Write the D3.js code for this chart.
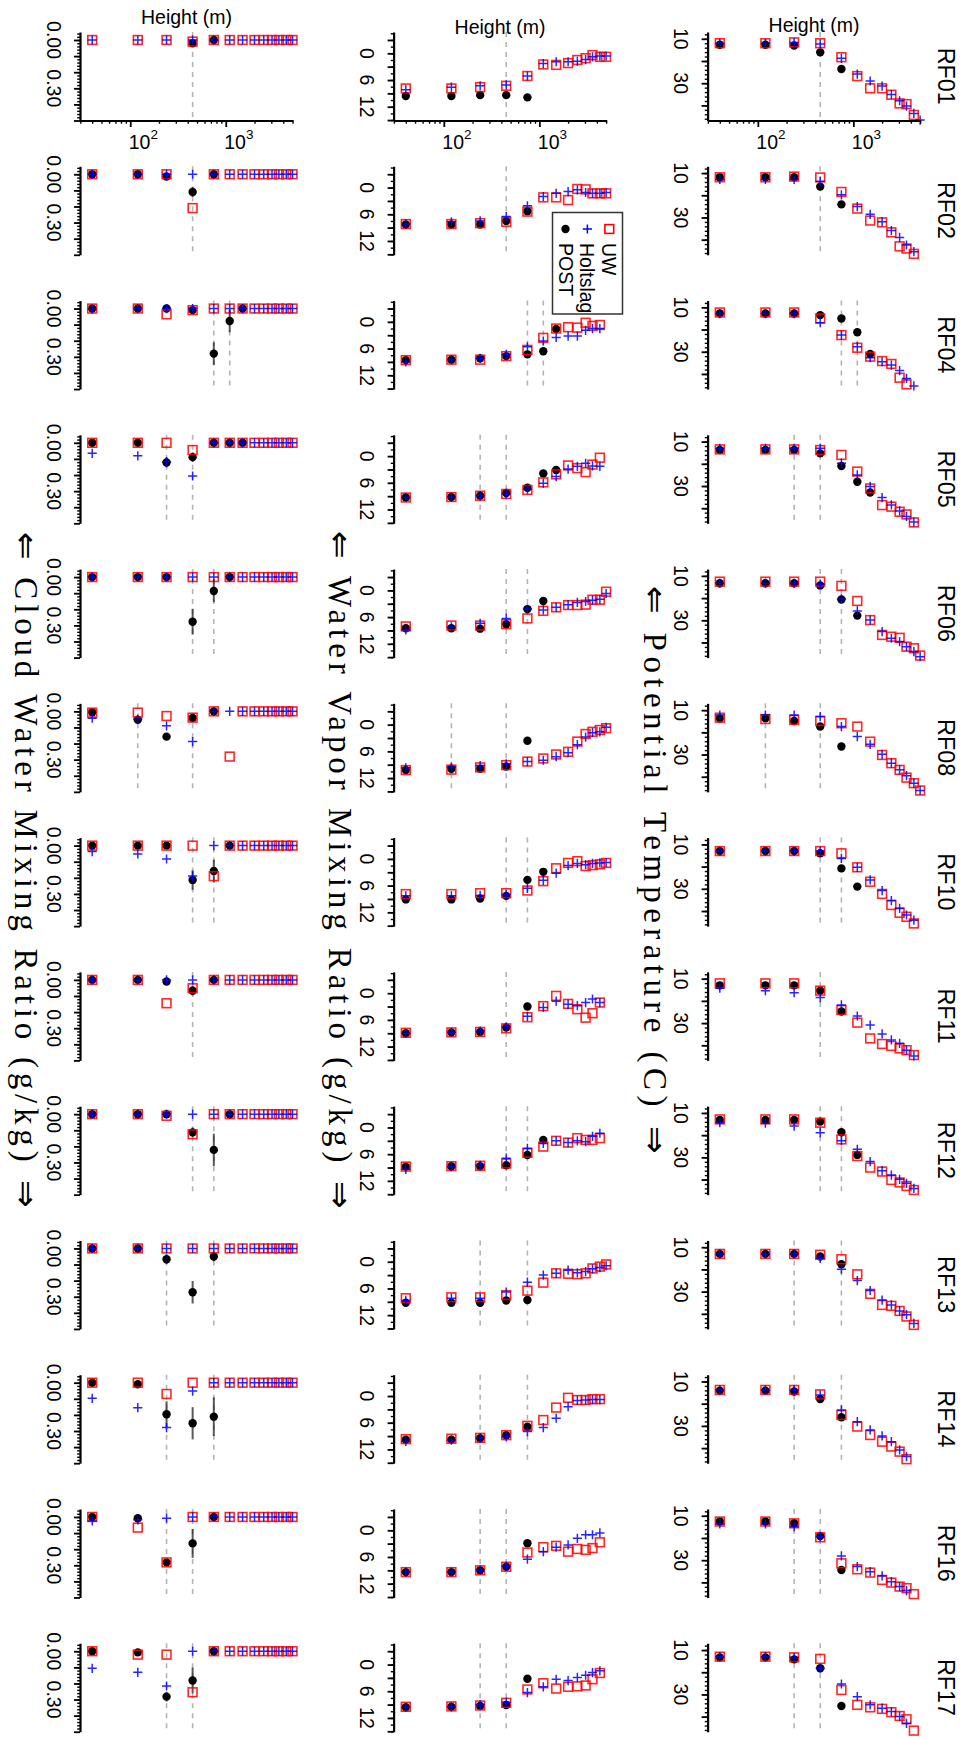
<!DOCTYPE html>
<html>
<head>
<meta charset="utf-8">
<script src="https://cdn.jsdelivr.net/npm/d3@7/dist/d3.min.js"></script>
<style>
  body { margin: 0; background: #fff; }
</style>
</head>
<body>
<div id="chart"></div>
<script>
const flights = ['RF01', 'RF02', 'RF04', 'RF05', 'RF06', 'RF08', 'RF10', 'RF11', 'RF12', 'RF13', 'RF14', 'RF16', 'RF17'];
const heights = [40, 120, 240, 450, 750, 1100, 1500, 2000, 2500, 3050, 3600, 4300, 5000];
const seriesNames = ['UW', 'Holtslag', 'POST'];
// levels (1-based) marked with grey dashed lines
const markedLevels = [[4], [4], [5, 6], [3, 4], [4, 5], [2, 4], [4, 5], [4], [4, 5], [3, 5], [3, 5], [3, 4], [3, 4]];

// potential temperature (C)
const thetaUW = [
  [12.0, 12.0, 11.6, 12.0, 18.3, 26.8, 32.3, 32.3, 35.2, 39.1, 39.4, 44.3],
  [11.9, 11.9, 11.6, 12.0, 18.5, 26.0, 31.4, 32.2, 36.7, 43.0, 44.0, 46.4],
  [12.3, 12.3, 12.3, 15.0, 22.5, 28.2, 32.2, 34.2, 35.5, 41.7, 44.7],
  [13.5, 13.5, 13.5, 13.8, 16.0, 23.5, 31.1, 38.6, 39.3, 41.6, 42.8, 46.4],
  [12.6, 12.6, 12.6, 12.6, 14.5, 21.3, 29.9, 36.6, 37.4, 37.9, 41.9, 42.6, 45.9],
  [13.4, 14.0, 14.4, 14.9, 15.9, 17.4, 24.2, 30.2, 33.9, 36.9, 40.4, 42.9, 46.2],
  [13.0, 13.0, 13.0, 13.0, 14.0, 20.3, 26.8, 32.3, 37.3, 40.8, 42.6, 45.6],
  [12.1, 12.1, 12.1, 15.4, 24.1, 29.8, 36.9, 39.4, 40.3, 41.4, 42.2, 44.4],
  [12.9, 12.9, 12.9, 14.4, 21.9, 29.4, 34.6, 36.4, 40.2, 41.3, 42.9, 44.7],
  [13.0, 13.0, 13.0, 13.4, 15.4, 22.2, 31.0, 36.0, 36.4, 38.7, 41.2, 45.0],
  [13.8, 13.8, 13.8, 15.8, 25.1, 30.3, 34.1, 37.1, 39.3, 41.6, 45.0],
  [12.6, 12.6, 13.4, 19.7, 31.4, 34.1, 35.6, 38.9, 40.1, 41.9, 42.6, 45.3],
  [13.0, 13.0, 13.3, 14.0, 28.0, 34.7, 35.8, 36.5, 38.0, 39.7, 41.2, 46.3]
];
const thetaHoltslag = [
  [12.0, 12.0, 11.7, 12.3, 18.8, 25.9, 29.0, 31.3, 35.1, 37.9, 40.3, 43.6, 46.6],
  [12.9, 12.9, 12.9, 13.7, 19.8, 25.1, 28.6, 31.9, 35.9, 39.0, 42.4, 45.4],
  [12.8, 12.8, 12.8, 16.9, 22.5, 27.7, 32.7, 34.5, 36.0, 38.5, 42.0, 45.4],
  [13.0, 13.0, 13.0, 13.0, 19.7, 25.0, 30.2, 35.2, 38.5, 41.2, 43.7, 46.2],
  [13.3, 13.3, 13.3, 13.8, 20.4, 25.8, 29.9, 35.1, 38.1, 39.6, 41.9, 44.1, 46.4],
  [12.2, 12.2, 12.2, 12.9, 17.4, 21.9, 25.4, 29.9, 33.9, 36.9, 39.5, 42.9, 46.2],
  [13.0, 13.0, 13.0, 13.0, 16.3, 20.3, 26.0, 30.8, 35.3, 38.8, 41.8, 44.1],
  [14.3, 15.4, 16.3, 18.5, 21.8, 26.8, 30.9, 34.9, 37.6, 39.1, 42.2, 44.8],
  [14.4, 14.6, 15.9, 18.9, 22.5, 26.4, 31.9, 36.0, 38.0, 39.9, 41.7, 44.0],
  [13.0, 13.0, 13.0, 15.0, 19.9, 25.0, 29.5, 33.8, 36.0, 38.7, 40.4, 44.3],
  [13.8, 13.8, 13.8, 16.1, 22.8, 28.1, 31.8, 34.5, 37.1, 40.8, 43.8],
  [13.7, 13.7, 14.9, 19.4, 28.1, 32.9, 35.2, 37.1, 39.7, 41.9, 43.7],
  [13.0, 13.0, 13.3, 18.2, 25.3, 31.0, 34.7, 36.2, 37.7, 39.9, 43.0]
];
const thetaPOST = [
  [12.7, 12.7, 13.0, 16.1, 23.6],
  [11.9, 11.9, 11.9, 16.1, 24.1],
  [12.8, 12.8, 12.8, 13.5, 15.0, 21.2, 31.0],
  [13.8, 13.8, 13.8, 15.3, 21.0, 28.1, 32.9],
  [13.3, 13.3, 13.3, 14.3, 20.6, 27.9],
  [13.7, 13.7, 14.9, 17.4, 26.4],
  [13.0, 13.0, 13.0, 14.0, 20.8, 29.0],
  [13.0, 13.0, 13.0, 15.4, 24.8],
  [13.2, 13.2, 13.2, 13.9, 18.7, 28.9],
  [13.0, 13.0, 13.0, 14.2, 17.7],
  [14.1, 14.1, 14.5, 17.9, 26.1],
  [12.6, 12.6, 13.4, 19.1, 34.4],
  [13.3, 13.3, 14.2, 18.2, 35.2]
];

// water vapor mixing ratio (g/kg)
const qvUW = [
  [7.9, 7.9, 7.6, 7.3, 5.1, 2.5, 2.6, 2.2, 1.5, 1.1, 0.4, 0.8, 0.8],
  [8.2, 8.2, 8.0, 7.7, 5.4, 2.2, 2.2, 2.8, 0.3, 0.4, 1.3, 1.3, 1.3],
  [8.6, 8.5, 8.5, 7.7, 6.3, 3.6, 1.5, 1.2, 1.3, 0.2, 0.9, 0.7],
  [9.3, 9.2, 8.9, 8.5, 7.6, 5.9, 4.1, 2.1, 2.7, 3.6, 1.9, 0.35],
  [8.1, 7.9, 7.9, 7.6, 6.3, 4.6, 3.8, 3.3, 3.3, 3.2, 2.1, 2.1, 0.3],
  [10.2, 10.1, 9.6, 9.1, 8.3, 7.6, 6.7, 6.1, 3.8, 2.1, 1.6, 1.2, 0.8],
  [7.9, 7.9, 7.7, 7.7, 7.1, 5.0, 2.1, 0.9, 0.5, 1.6, 1.4, 1.2, 0.9],
  [8.9, 8.8, 8.7, 7.9, 5.4, 2.9, 0.6, 2.4, 3.6, 5.5, 4.5, 2.1],
  [8.8, 8.7, 8.6, 8.1, 5.7, 4.3, 3.0, 3.4, 2.4, 2.8, 2.8, 2.4],
  [8.2, 8.0, 8.0, 7.5, 6.5, 4.7, 2.6, 2.7, 2.8, 2.6, 1.5, 1.1, 0.6],
  [9.7, 9.6, 9.4, 8.8, 6.7, 5.4, 2.6, 0.4, 0.9, 0.9, 0.7, 0.7],
  [9.4, 9.4, 9.0, 8.2, 5.0, 3.8, 3.5, 4.8, 4.2, 4.4, 4.0, 2.7],
  [9.5, 9.4, 9.2, 8.6, 5.6, 4.2, 5.4, 5.0, 4.9, 4.7, 3.3, 1.9]
];
const qvHoltslag = [
  [8.2, 7.6, 7.3, 7.1, 5.1, 2.3, 1.9, 1.9, 1.8, 1.4, 0.8, 0.6, 0.6],
  [8.2, 7.7, 7.5, 6.5, 4.1, 2.0, 1.3, 0.9, 0.5, 1.1, 1.3, 1.3, 1.1],
  [9.0, 8.5, 8.2, 7.3, 5.6, 4.3, 3.5, 3.2, 3.2, 1.9, 1.5, 1.5],
  [9.3, 9.2, 8.9, 8.5, 7.4, 6.1, 4.6, 2.9, 2.3, 1.6, 2.2, 2.3],
  [8.9, 8.2, 7.4, 6.3, 4.2, 4.4, 3.8, 3.2, 2.7, 2.5, 2.2, 2.0, 0.7],
  [9.7, 9.5, 9.2, 8.8, 8.3, 8.0, 7.2, 6.3, 4.5, 2.8, 1.8, 1.6, 0.6],
  [8.3, 8.3, 8.2, 8.0, 6.6, 4.8, 3.2, 1.5, 1.0, 1.3, 1.0, 0.9, 0.8],
  [9.0, 8.8, 8.5, 7.6, 5.2, 3.2, 1.8, 2.5, 2.8, 2.1, 1.3, 2.1],
  [9.4, 8.8, 8.5, 6.9, 4.7, 3.6, 3.0, 3.4, 3.0, 3.2, 2.0, 1.3],
  [8.7, 8.2, 8.2, 6.8, 4.6, 3.0, 2.6, 1.9, 2.5, 2.2, 1.6, 1.3, 0.9],
  [10.2, 9.9, 9.4, 9.2, 8.0, 7.1, 5.0, 2.4, 1.0, 0.9, 0.8, 0.8],
  [9.4, 9.4, 8.9, 8.1, 6.5, 4.8, 3.8, 3.3, 1.8, 1.0, 1.0, 0.6],
  [9.6, 9.5, 9.0, 8.5, 6.3, 5.0, 3.3, 3.6, 2.9, 2.4, 1.8, 1.4]
];
const qvPOST = [
  [9.6, 9.6, 9.4, 9.4, 9.9],
  [8.3, 8.3, 8.3, 7.5, 5.3],
  [8.6, 8.5, 8.2, 7.7, 7.3, 6.6, 1.6],
  [9.3, 9.2, 8.9, 8.3, 7.1, 3.9, 3.1],
  [8.5, 8.5, 8.6, 7.6, 4.2, 2.4],
  [10.2, 9.9, 9.9, 9.4, 3.6],
  [9.1, 9.1, 8.9, 8.3, 4.7, 2.9],
  [9.0, 8.8, 8.7, 7.7, 3.0],
  [8.8, 8.7, 8.7, 8.5, 6.2, 2.8],
  [9.2, 9.2, 9.2, 8.7, 8.6],
  [9.8, 9.8, 9.5, 8.8, 6.9],
  [9.4, 9.4, 9.0, 8.2, 2.9],
  [9.6, 9.5, 9.3, 9.1, 3.2]
];

// cloud water mixing ratio (g/kg)
const qcUW = [
  [0, 0, 0, 0.01, 0, 0, 0, 0, 0, 0, 0, 0, 0],
  [0, 0, 0, 0.21, 0, 0, 0, 0, 0, 0, 0, 0, 0],
  [0, 0, 0.036, 0.01, 0, 0, 0, 0, 0, 0, 0, 0, 0],
  [0, 0, 0, 0.045, 0, 0, 0, 0, 0, 0, 0, 0, 0],
  [0, 0, 0, 0, 0, 0, 0, 0, 0, 0, 0, 0, 0],
  [0.008, 0.008, 0.029, 0.039, 0, 0.281, 0, 0, 0, 0, 0, 0, 0],
  [0, 0, 0, 0, 0.19, 0, 0, 0, 0, 0, 0, 0, 0],
  [0, 0, 0.145, 0.052, 0, 0, 0, 0, 0, 0, 0, 0, 0],
  [0, 0, 0.01, 0.125, 0, 0, 0, 0, 0, 0, 0, 0, 0],
  [0, 0, 0, 0, 0, 0, 0, 0, 0, 0, 0, 0, 0],
  [0, 0, 0.07, 0, 0, 0, 0, 0, 0, 0, 0, 0, 0],
  [0, 0.066, 0.282, 0, 0, 0, 0, 0, 0, 0, 0, 0, 0],
  [0, 0.021, 0.021, 0.255, 0, 0, 0, 0, 0, 0, 0, 0, 0]
];
const qcHoltslag = [
  [0, 0, 0, 0, 0, 0, 0, 0, 0, 0, 0, 0, 0],
  [0, 0, 0, 0, 0, 0, 0, 0, 0, 0, 0, 0, 0],
  [0.005, 0, 0, 0, 0, 0, 0, 0, 0, 0, 0, 0, 0],
  [0.065, 0.081, 0.117, 0.206, 0, 0, 0, 0, 0, 0, 0, 0, 0],
  [0, 0, 0, 0, 0, 0, 0, 0, 0, 0, 0, 0, 0],
  [0.043, 0.049, 0.09, 0.188, 0, 0, 0, 0, 0, 0, 0, 0, 0],
  [0.037, 0.052, 0.083, 0.189, 0, 0, 0, 0, 0, 0, 0, 0, 0],
  [0, 0, 0, 0, 0, 0, 0, 0, 0, 0, 0, 0, 0],
  [0, 0, 0, 0, 0, 0, 0, 0, 0, 0, 0, 0, 0],
  [0, 0, 0, 0, 0, 0, 0, 0, 0, 0, 0, 0, 0],
  [0.097, 0.155, 0.279, 0.052, 0, 0, 0, 0, 0, 0, 0, 0, 0],
  [0.025, 0.018, 0.008, 0, 0, 0, 0, 0, 0, 0, 0, 0, 0],
  [0.106, 0.131, 0.216, 0, 0, 0, 0, 0, 0, 0, 0, 0, 0]
];
const qcPOST = [
  [null, null, null, 0.02, 0],
  [0, 0, 0.014, 0.11, 0],
  [0, 0, 0, 0.01, 0.28, 0.077, 0],
  [0, 0, 0.122, 0.089, 0, 0, 0],
  [0, 0, 0, 0.277, 0.086, 0],
  [0.005, 0.052, 0.157, 0.041, 0],
  [0, 0, 0, 0.214, 0.158, 0],
  [0, 0, 0.01, 0.067, 0],
  [0, 0, 0, 0.113, 0.222, 0],
  [0, 0, 0.067, 0.272, 0.05],
  [0, 0.01, 0.196, 0.252, 0.211],
  [0, 0.008, 0.282, 0.164, 0],
  [0, 0.007, 0.282, 0.182, 0]
];
// half-length of the POST error bars
const qcPOSTerr = [
  [0, 0, 0, 0.01, 0],
  [0, 0, 0, 0.03, 0],
  [0, 0, 0, 0, 0.07, 0.07, 0],
  [0, 0, 0.03, 0.03, 0, 0, 0],
  [0, 0, 0, 0.08, 0.07, 0],
  [0, 0.01, 0.02, 0.02, 0],
  [0, 0, 0, 0.06, 0.07, 0],
  [0, 0, 0, 0.03, 0],
  [0, 0, 0, 0.03, 0.1, 0],
  [0, 0, 0.03, 0.07, 0.03],
  [0, 0, 0.08, 0.1, 0.12],
  [0, 0, 0.02, 0.09, 0],
  [0, 0, 0.03, 0.08, 0]
];

const qcTicks = ['0.00', '0.30'];
const qvTicks = ['0', '6', '12'];
const thetaTicks = ['10', '30'];

const variables = [
  { title: '\u21d0 Cloud Water Mixing Ratio (g/kg) \u21d2', uw: qcUW, hs: qcHoltslag, post: qcPOST, err: qcPOSTerr,
    domain: [-0.0497, 0.5], major: d3.range(0, 0.51, 0.1), minor: d3.range(-0.04, 0.5, 0.02), labels: qcTicks,
    left: 80, titleX: 15, titleLen: 676, heightY: 24 },
  { title: '\u21d0 Water Vapor Mixing Ratio (g/kg) \u21d2', uw: qvUW, hs: qvHoltslag, post: qvPOST, err: null,
    domain: [-4.79, 15.1], major: d3.range(-3, 15.1, 3), minor: d3.range(-4.5, 15.1, 1.5), labels: qvTicks,
    left: 393.6, titleX: 328.5, titleLen: 678, heightY: 34.3 },
  { title: '\u21d0 Potential Temperature (C) \u21d2', uw: thetaUW, hs: thetaHoltslag, post: thetaPOST, err: null,
    domain: [6.94, 46.8], major: [10, 20, 30, 40], minor: d3.range(8, 46.9, 2), labels: thetaTicks,
    left: 707.6, titleX: 644, titleLen: 568, heightY: 32.3 }
];

const width = 969;
const height = 1739;
const panelW = 213;
const panelH = 88.5;
const rowTop = i => 32 + 134.27 * i;
const box = 8.8;

const svg = d3.select('#chart')
  .append('svg')
    .attr('width', width)
    .attr('height', height)
    .style('font-family', 'Liberation Sans, Arial, sans-serif');

const x = d3.scaleLog()
  .domain([29.8, 5058])
  .range([0, panelW]);

const plusPath = 'M-4.6,0H4.6M0,-4.6V4.6';

variables.forEach((v) => {
  const y = d3.scaleLinear()
    .domain(v.domain)
    .range([0, panelH]);

  flights.forEach((f, i) => {
    const g = svg.append('g')
      .attr('transform', `translate(${v.left},${rowTop(i)})`);

    // dashed marks at selected levels
    g.selectAll('.mark')
      .data(markedLevels[i])
      .enter().append('line')
        .attr('x1', d => x(heights[d - 1]))
        .attr('x2', d => x(heights[d - 1]))
        .attr('y1', 0)
        .attr('y2', panelH)
        .attr('stroke', '#b4b4b4')
        .attr('stroke-width', 1.6)
        .attr('stroke-dasharray', '5,5');

    // value axis
    g.append('g')
      .call(d3.axisLeft(y).tickValues(v.minor).tickSize(2.8).tickFormat('').tickSizeOuter(0))
      .call(s => s.select('.domain').remove())
      .selectAll('line').attr('stroke-width', 1.4);
    g.append('g')
      .call(d3.axisLeft(y).tickValues(v.major).tickSize(6).tickFormat('').tickSizeOuter(0))
      .call(s => s.select('.domain').attr('stroke-width', 2.2))
      .selectAll('line').attr('stroke-width', 1.8);

    g.selectAll('.tick-label')
      .data(v.labels)
      .enter().append('text')
        .attr('transform', d => `translate(-33.4,${y(+d)}) rotate(90)`)
        .attr('text-anchor', 'middle')
        .attr('font-size', 19.5)
        .text(d => d);

    const pts = (arr) => arr[i]
      .map((d, k) => ({ h: heights[k], val: d, k }))
      .filter(d => d.val !== null);

    if (v.err) {
      g.selectAll('.err')
        .data(pts(v.post).filter(d => v.err[i][d.k] > 0))
        .enter().append('line')
          .attr('x1', d => x(d.h))
          .attr('x2', d => x(d.h))
          .attr('y1', d => y(d.val - v.err[i][d.k]))
          .attr('y2', d => y(d.val + v.err[i][d.k]))
          .attr('stroke', '#222')
          .attr('stroke-opacity', 0.75)
          .attr('stroke-width', 2);
    }

    g.selectAll('.post')
      .data(pts(v.post))
      .enter().append('circle')
        .attr('cx', d => x(d.h))
        .attr('cy', d => y(d.val))
        .attr('r', 4.2)
        .attr('fill', '#000');

    g.selectAll('.uw')
      .data(pts(v.uw))
      .enter().append('rect')
        .attr('x', d => x(d.h) - box / 2)
        .attr('y', d => y(d.val) - box / 2)
        .attr('width', box)
        .attr('height', box)
        .attr('fill', 'none')
        .attr('stroke', '#ff0000')
        .attr('stroke-opacity', 0.85)
        .attr('stroke-width', 1.6);

    g.selectAll('.hs')
      .data(pts(v.hs))
      .enter().append('path')
        .attr('transform', d => `translate(${x(d.h)},${y(d.val)})`)
        .attr('d', plusPath)
        .attr('stroke', '#0000ff')
        .attr('stroke-opacity', 0.85)
        .attr('stroke-width', 1.5);

    if (i === 0) {
      const ax = g.append('g')
        .attr('transform', `translate(0,${panelH})`);
      ax.append('g')
        .call(d3.axisBottom(x).tickValues([30, 40, 50, 60, 70, 80, 90, 200, 300, 400, 500, 600, 700, 800, 900, 2000, 3000, 4000, 5000])
          .tickSize(3.2).tickFormat('').tickSizeOuter(0))
        .call(s => s.select('.domain').remove())
        .selectAll('line').attr('stroke-width', 1.4);
      ax.append('g')
        .call(d3.axisBottom(x).tickValues([100, 1000]).tickSize(6.5).tickFormat('').tickSizeOuter(0))
        .call(s => s.select('.domain').attr('stroke-width', 2.2))
        .selectAll('line').attr('stroke-width', 1.8);

      const lab = ax.selectAll('.pow')
        .data([2, 3])
        .enter().append('text')
          .attr('x', d => x(Math.pow(10, d)) - 1.5)
          .attr('y', 28.3)
          .attr('font-size', 19.5);
      lab.append('tspan').text('10');
      lab.append('tspan')
        .attr('dy', -9.5)
        .attr('font-size', 13.5)
        .text(d => d);

      svg.append('text')
        .attr('x', v.left + panelW / 2)
        .attr('y', v.heightY)
        .attr('text-anchor', 'middle')
        .attr('font-size', 19.5)
        .text('Height (m)');
    }
  });

  svg.append('text')
    .attr('transform', `translate(${v.titleX},${height / 2}) rotate(90)`)
    .attr('text-anchor', 'middle')
    .attr('font-family', 'Liberation Serif, serif')
    .attr('font-size', 33)
    .attr('textLength', v.titleLen)
    .attr('lengthAdjust', 'spacing')
    .text(v.title);
});

// flight labels
svg.selectAll('.flight')
  .data(flights)
  .enter().append('text')
    .attr('transform', (d, i) => `translate(938,${rowTop(i) + panelH / 2}) rotate(90)`)
    .attr('text-anchor', 'middle')
    .attr('font-size', 23.4)
    .text(d => d);

// legend
const legend = svg.append('g')
  .attr('transform', 'translate(552.5,212.5)');

legend.append('rect')
  .attr('width', 70)
  .attr('height', 101.5)
  .attr('fill', '#fff')
  .attr('stroke', '#333')
  .attr('stroke-width', 1.5);

const legendX = d3.scalePoint()
  .domain(seriesNames)
  .range([56.8, 13]);

legend.append('rect')
  .attr('x', legendX('UW') - box / 2)
  .attr('y', 16.5 - box / 2)
  .attr('width', box)
  .attr('height', box)
  .attr('fill', 'none')
  .attr('stroke', '#ff0000')
  .attr('stroke-width', 1.6);
legend.append('path')
  .attr('transform', `translate(${legendX('Holtslag')},16.5)`)
  .attr('d', plusPath)
  .attr('stroke', '#0000ff')
  .attr('stroke-width', 1.5);
legend.append('circle')
  .attr('cx', legendX('POST'))
  .attr('cy', 16.5)
  .attr('r', 4.2)
  .attr('fill', '#000');

legend.selectAll('.name')
  .data(seriesNames)
  .enter().append('text')
    .attr('transform', d => `translate(${legendX(d) - 7},30.5) rotate(90)`)
    .attr('font-size', 19.5)
    .text(d => d);
</script>
</body>
</html>
